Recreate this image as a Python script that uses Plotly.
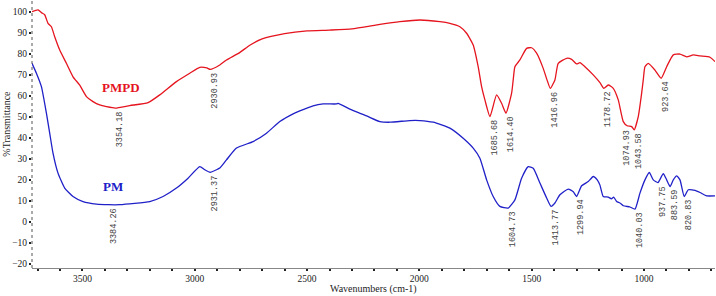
import plotly.graph_objects as go

# ---- data ----
pmpd_wn = [3724.5, 3697.8, 3682.6, 3668.0, 3653.2, 3638.1, 3623.4, 3601.1, 3571.3, 3541.9,
           3512.0, 3482.2, 3452.8, 3423.0, 3393.1, 3354.2, 3289.4, 3207.8, 3155.7, 3081.4,
           3022.1, 2977.6, 2946.0, 2930.9, 2888.5, 2858.7, 2800.0, 2755.0, 2700.0, 2600.0,
           2500.0, 2400.0, 2300.0, 2175.9, 2086.8, 1997.7, 1908.6, 1864.1, 1819.6, 1789.7,
           1760.3, 1738.1, 1722.9, 1708.2, 1685.7, 1656.1, 1633.8, 1614.4, 1589.3, 1582.2,
           1574.6, 1552.3, 1522.5, 1500.2, 1478.0, 1448.6, 1430.0, 1417.0, 1396.5, 1381.7,
           1344.3, 1322.1, 1299.8, 1285.1, 1262.9, 1225.9, 1196.0, 1178.7, 1159.1, 1136.8,
           1114.5, 1092.2, 1074.9, 1054.8, 1043.6, 1025.4, 1010.3, 1003.2, 995.6, 980.9,
           951.1, 923.6, 899.0, 869.5, 839.7, 809.9, 780.5, 750.6, 706.1, 683.8]
pmpd_t = [100.0, 100.8, 99.5, 98.5, 94.4, 92.8, 88.0, 81.7, 75.4, 69.0,
          65.0, 59.6, 57.2, 55.6, 54.8, 54.1, 55.3, 56.7, 60.4, 66.7,
          70.7, 73.5, 73.2, 72.5, 74.6, 77.0, 80.5, 84.0, 87.0, 89.5,
          90.8, 91.2, 91.8, 93.9, 95.2, 96.0, 95.2, 94.4, 92.8, 89.7,
          84.1, 73.8, 64.3, 58.0, 50.1, 60.4, 56.4, 51.7, 61.2, 67.5,
          73.8, 77.0, 82.5, 82.8, 80.2, 73.0, 67.0, 63.5, 67.5, 75.4,
          77.8, 77.3, 75.1, 75.7, 73.8, 69.9, 66.2, 63.5, 65.1, 63.5,
          58.0, 47.7, 45.7, 45.3, 43.8, 50.1, 61.2, 67.5, 73.8, 75.4,
          72.2, 68.3, 73.8, 79.4, 79.8, 78.5, 79.4, 78.9, 78.3, 76.2]

pm_wn = [3724.5, 3704.9, 3682.6, 3660.4, 3645.7, 3631.0, 3608.7, 3578.9, 3541.9, 3497.4,
         3437.7, 3384.3, 3333.9, 3200.3, 3141.0, 3081.4, 3029.7, 2977.6, 2955.3, 2931.4,
         2903.2, 2888.5, 2858.7, 2814.1, 2740.2, 2680.5, 2621.3, 2562.0, 2532.2, 2473.0,
         2428.4, 2368.7, 2361.6, 2309.5, 2235.1, 2175.9, 2131.3, 2042.3, 1997.7, 1938.5,
         1864.1, 1804.9, 1760.3, 1730.5, 1700.6, 1671.3, 1641.5, 1604.7, 1574.6, 1544.8,
         1515.4, 1493.1, 1463.3, 1433.4, 1413.8, 1396.5, 1374.2, 1337.2, 1314.9, 1299.9,
         1277.5, 1248.1, 1225.9, 1208.0, 1196.0, 1181.3, 1159.1, 1145.0, 1135.0, 1121.6,
         1107.0, 1092.2, 1062.4, 1040.0, 1017.9, 995.6, 976.4, 958.6, 937.8, 914.1,
         899.0, 883.6, 869.5, 854.4, 839.7, 820.8, 802.7, 772.9, 750.6, 720.8, 683.8]
pm_t = [75.4, 70.7, 64.3, 51.7, 42.2, 32.7, 23.2, 16.1, 12.1, 9.7,
        8.5, 8.2, 8.2, 9.7, 12.1, 16.1, 20.8, 26.3, 24.8, 23.6,
        24.8, 25.6, 29.5, 35.1, 38.2, 42.2, 47.7, 51.4, 52.8, 55.2,
        56.1, 56.1, 56.4, 53.6, 50.4, 47.7, 47.4, 48.2, 48.2, 47.4,
        44.6, 39.8, 35.1, 30.3, 20.0, 12.1, 7.4, 6.6, 10.5, 20.8,
        26.3, 25.5, 18.5, 11.4, 7.4, 9.0, 12.9, 15.6, 14.4, 12.1,
        17.2, 19.2, 21.6, 20.0, 17.5, 12.1, 11.8, 11.0, 11.8, 9.7,
        9.0, 7.7, 7.1, 6.1, 13.7, 20.0, 23.5, 20.0, 18.7, 22.9,
        20.0, 16.8, 20.0, 21.9, 20.0, 12.1, 15.3, 15.0, 14.0, 12.4, 12.4]

pmpd_peaks = [3354.18, 2930.93, 1685.68, 1614.40, 1416.96, 1178.72, 1074.93, 1043.58, 923.64]
pmpd_peak_t = [54.1, 72.5, 50.1, 51.7, 63.5, 63.5, 45.3, 43.8, 68.3]
pm_peaks = [3384.26, 2931.37, 1604.73, 1413.77, 1299.94, 1040.03, 937.75, 883.59, 820.83]
pm_peak_t = [8.2, 23.6, 6.6, 7.4, 12.1, 6.1, 18.7, 16.8, 12.1]

series_names = ["PMPD", "PM"]
series_label_pos = [(3328.0, 63.7), (3363.7, 16.7)]

y_ticks = list(range(-20, 101, 10))
x_ticks = [3500, 3000, 2500, 2000, 1500, 1000]

RED = "#E5141E"
BLUE = "#2020C8"

fig = go.Figure()
fig.add_trace(go.Scatter(x=pmpd_wn, y=pmpd_t, mode="lines", name="PMPD",
                         line=dict(color=RED, width=1.3, shape="spline", smoothing=0.5)))
fig.add_trace(go.Scatter(x=pm_wn, y=pm_t, mode="lines", name="PM",
                         line=dict(color=BLUE, width=1.3, shape="spline", smoothing=0.5)))

ann = []
for peaks, vals in ((pmpd_peaks, pmpd_peak_t), (pm_peaks, pm_peak_t)):
    for p, v in zip(peaks, vals):
        ann.append(dict(x=p, y=v, xref="x", yref="y", text=f"{p:.2f}", showarrow=False,
                        textangle=-90, xanchor="center", yanchor="top",
                        xshift=(-1 if p == 1074.93 else 5), yshift=-1,
                        font=dict(family="Liberation Mono", size=8.5, color="#444")))
for name, (lx, ly), col in zip(series_names, series_label_pos, (RED, BLUE)):
    ann.append(dict(x=lx, y=ly, xref="x", yref="y", text=f"<b>{name}</b>", showarrow=False,
                    font=dict(family="Liberation Serif", size=13, color=col)))

# axis titles as paper annotations for exact placement
ann.append(dict(x=0.5, y=-0.08, xref="paper", yref="paper", xanchor="center", yanchor="middle",
                text="Wavenumbers (cm-1)", showarrow=False,
                font=dict(family="Liberation Serif", size=10, color="#222")))
ann.append(dict(x=-0.0375, y=0.54, xref="paper", yref="paper", xanchor="center", yanchor="middle",
                text="%Transmittance", textangle=-90, showarrow=False,
                font=dict(family="Liberation Serif", size=10, color="#222")))

fig.update_layout(
    width=716, height=296,
    margin=dict(l=32, r=1, t=0, b=28, autoexpand=False),
    paper_bgcolor="white", plot_bgcolor="white",
    showlegend=False,
    font=dict(family="Liberation Serif", size=9.5, color="#222"),
    annotations=ann,
    shapes=[dict(type="line", xref="paper", yref="paper", x0=0, x1=0, y0=0, y1=1,
                 line=dict(color="#555", width=1, dash="dot"))],
)
fig.update_xaxes(range=[3724.5, 683.8], tickvals=x_ticks, showgrid=False, zeroline=False,
                 automargin=False,
                 showline=True, linecolor="#888", linewidth=1,
                 ticks="outside", ticklen=2, tickwidth=2, tickcolor="#222",
                 minor=dict(dtick=100, tick0=0, ticks="outside", ticklen=2, tickwidth=2, tickcolor="#222"),
                 tickfont=dict(family="Liberation Serif", size=9.5, color="#222"))
fig.update_yaxes(range=[-21.9, 105.5], tickvals=y_ticks, showgrid=False, zeroline=False,
                 automargin=False,
                 showline=False, ticks="outside", ticklen=2, tickwidth=2, tickcolor="#222",
                 tickfont=dict(family="Liberation Serif", size=9.5, color="#222"))

fig.write_html("out.html", config={"displayModeBar": False},
               post_script="document.body.style.margin='0';document.body.style.overflow='hidden';")
